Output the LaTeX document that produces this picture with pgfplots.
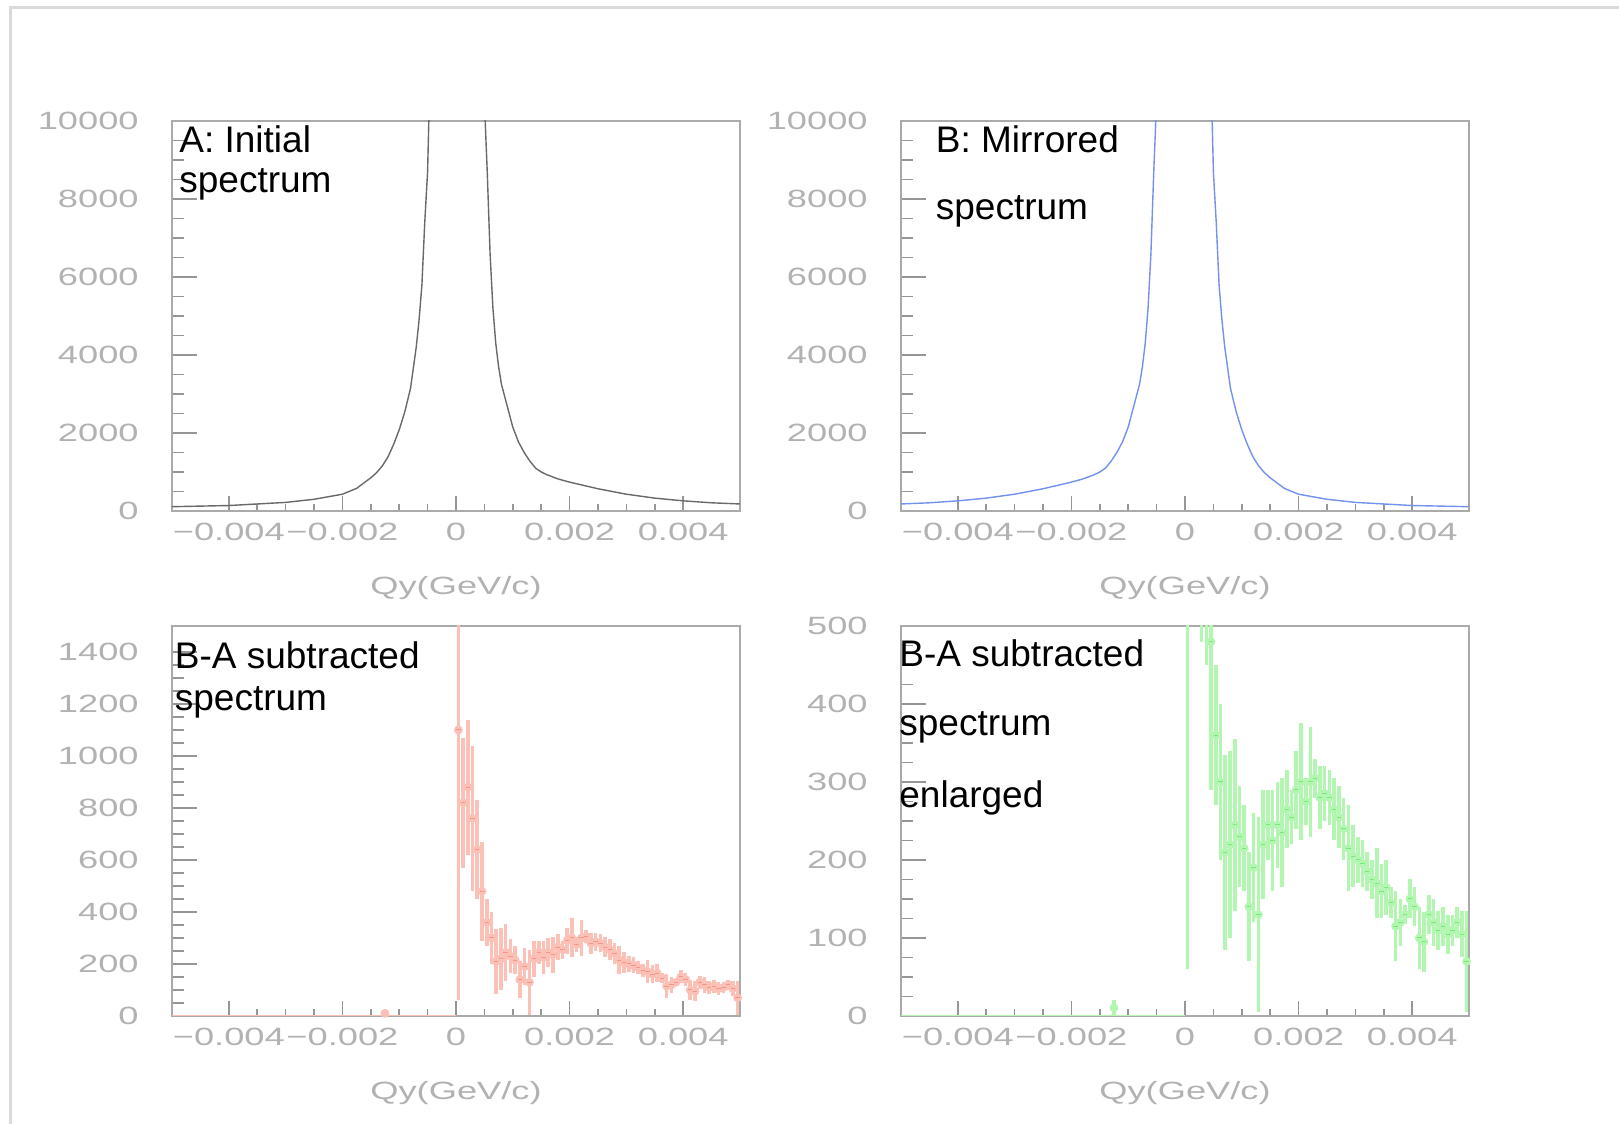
\documentclass[border=0pt]{standalone}
\usepackage{fontspec}
\setmainfont{Liberation Sans}
\newfontfamily\tickfont[FakeStretch=1.45]{Liberation Sans}
\usepackage{pgfplots}
\usepackage{pgfplotstable}
\pgfplotsset{compat=1.18}

\definecolor{tickgray}{RGB}{178,178,178}
\definecolor{axisgray}{RGB}{170,170,170}
\definecolor{tickcol}{RGB}{150,150,150}
\definecolor{framegray}{RGB}{218,218,218}
\definecolor{curveA}{RGB}{105,105,105}
\definecolor{curveB}{RGB}{115,145,238}
\definecolor{redbar}{RGB}{251,192,182}
\definecolor{redmark}{RGB}{245,150,135}
\definecolor{greenbar}{RGB}{178,246,178}
\definecolor{greenmark}{RGB}{120,232,120}

\pgfplotstableread{
x y
-0.005 110
-0.0045 125
-0.004 140
-0.0035 180
-0.003 220
-0.0025 300
-0.002 430
-0.00175 580
-0.0015 850
-0.0014 980
-0.0013 1150
-0.0012 1380
-0.0011 1700
-0.001 2080
-0.0009 2550
-0.0008 3150
-0.0007 4200
-0.00065 4900
-0.0006 5800
-0.00055 7400
-0.0005 8700
-0.00047 10500
-0.0004 14000
0 20000
0.0004 14000
0.0005 10500
0.00055 8700
0.0006 6600
0.00065 5200
0.0007 4300
0.00075 3700
0.0008 3250
0.0009 2700
0.001 2150
0.0011 1770
0.0012 1500
0.0013 1280
0.0014 1100
0.0015 1000
0.0016 930
0.0018 820
0.002 740
0.0025 570
0.003 430
0.0035 330
0.004 260
0.0045 210
0.005 180
}\dataA

\pgfplotstableread{
x y
-0.005 180
-0.0045 210
-0.004 260
-0.0035 330
-0.003 430
-0.0025 570
-0.002 740
-0.0018 820
-0.0016 930
-0.0015 1000
-0.0014 1100
-0.0013 1280
-0.0012 1500
-0.0011 1770
-0.001 2150
-0.0009 2700
-0.0008 3250
-0.00075 3700
-0.0007 4300
-0.00065 5200
-0.0006 6600
-0.00055 8700
-0.0005 10500
-0.0004 14000
0 20000
0.0004 14000
0.00047 10500
0.0005 8700
0.00055 7400
0.0006 5800
0.00065 4900
0.0007 4200
0.0008 3150
0.0009 2550
0.001 2080
0.0011 1700
0.0012 1380
0.0013 1150
0.0014 980
0.0015 850
0.00175 580
0.002 430
0.0025 300
0.003 220
0.0035 180
0.004 140
0.0045 125
0.005 110
}\dataB

\pgfplotstableread{
x y e
0.0000417 1100 1040
0.000125 820 250
0.000208 880 260
0.000292 760 280
0.000375 640 190
0.000458 480 190
0.000542 360 90
0.000625 300 100
0.000708 210 125
0.000792 220 120
0.000875 245 110
0.000958 230 65
0.001042 215 55
0.001125 140 70
0.001208 190 70
0.001292 130 125
0.001375 220 70
0.001458 245 45
0.001542 225 65
0.001625 245 55
0.001708 235 70
0.001792 265 50
0.001875 255 35
0.001958 290 50
0.002042 300 75
0.002125 275 30
0.002208 300 70
0.002292 305 25
0.002375 280 40
0.002458 285 35
0.002542 280 35
0.002625 265 40
0.002708 255 40
0.002792 240 40
0.002875 215 55
0.002958 205 40
0.003042 200 30
0.003125 195 30
0.003208 185 25
0.003292 175 25
0.003375 170 45
0.003458 160 35
0.003542 165 35
0.003625 145 20
0.003708 115 45
0.003792 120 30
0.003875 130 12
0.003958 150 25
0.004042 140 25
0.004125 100 40
0.004208 95 38
0.004292 130 25
0.004375 120 30
0.004458 110 25
0.004542 115 25
0.004625 105 25
0.004708 110 20
0.004792 120 20
0.004875 105 30
0.004958 70 65
}\dataD

\pgfplotstableread{
x y e
-0.00125 10.5 10.5
}\dataN

\pgfplotsset{
  paw/.style={
    scale only axis, width=284pt, height=195pt,
    xmin=-0.005, xmax=0.005, ymin=0,
    scaled x ticks=false, scaled y ticks=false,
    tick pos=left, tick align=inside,
    xtick={-0.004,-0.002,0,0.002,0.004},
    xticklabels={−0.004,−0.002,0,0.002,0.004},
    minor x tick num=3, minor y tick num=3,
    tick label style={font=\tickfont\fontsize{12.5pt}{12.5pt}\selectfont, text=tickgray},
    xticklabel style={anchor=north, inner sep=0pt, yshift=-6pt},
    yticklabel style={anchor=east, inner sep=0pt, xshift=-16.5pt},
    xlabel={Qy(GeV/c)},
    xlabel style={at={(axis description cs:0.5,0)}, anchor=center, yshift=-38.75pt,
      font=\tickfont\fontsize{12.5pt}{12.5pt}\selectfont, text=tickgray, inner sep=0pt},
    axis line style={draw=axisgray, line width=1pt},
    tick style={draw=tickcol, line width=0.8pt},
    xtick style={/pgfplots/major tick length=7.5pt, /pgfplots/minor tick length=3.5pt},
    ytick style={/pgfplots/major tick length=12.5pt, /pgfplots/minor tick length=6pt},
  }
}

\begin{document}
\begin{tikzpicture}
\path[use as bounding box] (0,0) rectangle (809.5pt,562pt);
\draw[framegray, line width=1.5pt] (5.15pt,0pt) -- (5.15pt,558pt) -- (809.5pt,558pt);

% A: initial
\begin{axis}[paw, at={(86pt,306.5pt)}, anchor=south west, ymax=10000,
  ytick={0,2000,4000,6000,8000,10000}, yticklabels={0,2000,4000,6000,8000,10000}]
\addplot[curveA, line width=0.7pt] table[x=x,y=y] {\dataA};
\end{axis}

% B: mirrored
\begin{axis}[paw, at={(450.5pt,306.5pt)}, anchor=south west, ymax=10000,
  ytick={0,2000,4000,6000,8000,10000}, yticklabels={0,2000,4000,6000,8000,10000}]
\addplot[curveB, line width=0.7pt] table[x=x,y=y] {\dataB};
\end{axis}

% B-A subtracted
\begin{axis}[paw, at={(86pt,54pt)}, anchor=south west, ymax=1500,
  ytick={0,200,400,600,800,1000,1200,1400}, yticklabels={0,200,400,600,800,1000,1200,1400}]
\addplot[redbar, line width=1pt] coordinates {(-0.005,0.5) (0,0.5)};
\addplot[only marks, mark=none, color=redbar,
  error bars/.cd, y dir=both, y explicit, error mark=none,
  error bar style={line width=1.6pt, color=redbar}] table[x=x,y=y,y error=e] {\dataN};
\addplot[only marks, mark=none, color=redbar,
  error bars/.cd, y dir=both, y explicit, error mark=none,
  error bar style={line width=1.8pt, color=redbar}] table[x=x,y=y,y error=e] {\dataD};
\addplot[only marks, mark=-, mark size=1.1pt, color=redmark, mark options={line width=0.5pt}] table[x=x,y=y] {\dataD};
\end{axis}

% B-A subtracted enlarged
\begin{axis}[paw, at={(450.5pt,54pt)}, anchor=south west, ymax=500,
  ytick={0,100,200,300,400,500}, yticklabels={0,100,200,300,400,500}]
\addplot[greenbar, line width=1pt] coordinates {(-0.005,0.3) (0,0.3)};
\addplot[only marks, mark=none, color=greenbar,
  error bars/.cd, y dir=both, y explicit, error mark=none,
  error bar style={line width=1.6pt, color=greenbar}] table[x=x,y=y,y error=e] {\dataN};
\addplot[only marks, mark=none, color=greenbar,
  error bars/.cd, y dir=both, y explicit, error mark=none,
  error bar style={line width=1.8pt, color=greenbar}] table[x=x,y=y,y error=e] {\dataD};
\addplot[only marks, mark=-, mark size=1.1pt, color=greenmark, mark options={line width=0.5pt}] table[x=x,y=y] {\dataD};
\end{axis}

% annotations
\begin{scope}[every node/.style={anchor=base west, inner sep=0pt, font=\fontsize{18.5pt}{18.5pt}\selectfont}]
\node at (89.5pt,485.5pt) {A: Initial};
\node at (89.5pt,465.5pt) {spectrum};
\node at (467.75pt,485.5pt) {B: Mirrored};
\node at (467.75pt,452pt) {spectrum};
\node at (87.25pt,227.5pt) {B-A subtracted};
\node at (87.25pt,206.75pt) {spectrum};
\node at (449.5pt,228.7pt) {B-A subtracted};
\node at (449.5pt,194.2pt) {spectrum};
\node at (449.5pt,158.4pt) {enlarged};
\end{scope}
\end{tikzpicture}
\end{document}
